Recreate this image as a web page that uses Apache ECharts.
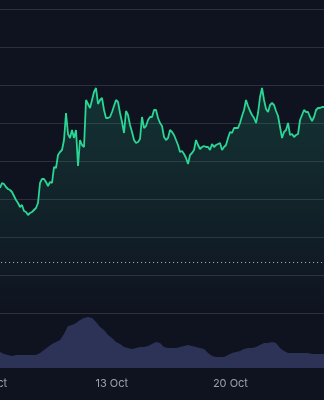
<!DOCTYPE html>
<html>
<head>
<meta charset="utf-8">
<style>
html,body{margin:0;padding:0;background:#0f1320;}
#chart{width:324px;height:400px;}
</style>
</head>
<body>
<div id="chart"></div>
<script src="https://cdn.jsdelivr.net/npm/echarts/dist/echarts.min.js"></script>
<script>
// Time is measured in hours since 6 Oct 00:00
const priceStartHour = 9.77;
const priceStepHours = 2.832;
const volumeStartHour = 9.77;
const volumeStepHours = 5.664;

const priceValues = [
  125,130,129,126,124,123,121,117,113,110,106,108,102,101,98,100,101,103,105,110,
  130,134,134,131,127,131,130,146,145,158,161,163,173,200,179,175,183,175,183,147,
  173,168,166,213,209,205,213,221,225,209,213,215,203,195,195,196,201,207,213,211,
  200,191,180,202,198,188,181,173,170,171,174,196,185,187,193,196,196,203,203,195,
  190,187,176,173,175,183,181,178,173,168,161,162,159,155,149,158,160,163,173,168,
  164,166,167,166,166,163,169,166,168,169,170,163,166,168,175,181,180,185,185,185,
  190,197,203,213,207,202,198,195,190,200,216,225,213,204,201,208,210,208,202,197,
  186,175,181,183,190,178,179,176,178,179,193,198,203,201,201,196,192,196,203,205,
  205,206,206
];

const volumeValues = [
  16,14,13,12,13,13,13,13,13,13,15,18,21,24,26,28,34,42,43,45,
  48,50,51,50,46,41,38,33,30,26,24,21,20,19,20,21,21,22,24,26,
  25,21,20,20,20,21,22,23,22,21,20,19,15,12,11,11,11,13,15,16,
  17,19,20,20,21,23,25,25,26,25,20,17,15,15,15,15,15,15,14,14,
  14,14
];

const openValue = 51;
const axisMaxHour = 468.5;
const tickHours = 168;
const priceAxisMax = 304;
const priceAxisInterval = 38;
const volumeAxisMax = 71;

const priceData = priceValues.map((v, i) => [priceStartHour + i * priceStepHours, v]);
const volumeData = volumeValues.map((v, i) => [volumeStartHour + i * volumeStepHours, v]);

function dayLabel(v) {
  const d = v / 24;
  if (Math.abs(d - Math.round(d)) > 0.01) return '';
  return (6 + Math.round(d)) + ' Oct';
}

const chart = echarts.init(document.getElementById('chart'), null, {renderer: 'canvas'});
chart.setOption({
  backgroundColor: '#0f1320',
  animation: false,
  grid: [
    {left: -6.9, right: 0, top: 9, bottom: 87, containLabel: false, outerBoundsMode: 'none'},
    {left: -6.9, right: 0, top: 297, bottom: 32, containLabel: false, outerBoundsMode: 'none'}
  ],
  xAxis: [
    {
      gridIndex: 0, type: 'value', min: 0, max: axisMaxHour, interval: tickHours,
      axisLine: {show: false}, axisTick: {show: false}, axisLabel: {show: false},
      splitLine: {show: false}
    },
    {
      gridIndex: 1, type: 'value', min: 0, max: axisMaxHour, interval: tickHours,
      axisLine: {show: false}, axisTick: {show: false}, splitLine: {show: false},
      axisLabel: {
        show: true, color: '#9aa0ac', fontSize: 11, margin: 10,
        fontFamily: 'Inter, "Noto Sans", sans-serif',
        showMaxLabel: false, showMinLabel: true, hideOverlap: false,
        formatter: dayLabel
      }
    }
  ],
  yAxis: [
    {
      gridIndex: 0, type: 'value', min: 0, max: priceAxisMax, interval: priceAxisInterval,
      axisLine: {show: false}, axisTick: {show: false}, axisLabel: {show: false},
      splitLine: {show: true, lineStyle: {color: '#2b2f3e', width: 1}}
    },
    {
      gridIndex: 1, type: 'value', min: 0, max: volumeAxisMax,
      axisLine: {show: false}, axisTick: {show: false}, axisLabel: {show: false},
      splitLine: {show: false}
    }
  ],
  series: [
    {
      type: 'line', xAxisIndex: 1, yAxisIndex: 1, data: volumeData,
      showSymbol: false, silent: true,
      lineStyle: {width: 0},
      areaStyle: {color: '#2d3356', opacity: 1}
    },
    {
      type: 'line', xAxisIndex: 0, yAxisIndex: 0, data: priceData,
      showSymbol: false, silent: true,
      lineStyle: {color: '#2bd594', width: 1.8},
      areaStyle: {
        color: new echarts.graphic.LinearGradient(0, 0, 0, 1, [
          {offset: 0, color: 'rgba(43,213,148,0.24)'},
          {offset: 1, color: 'rgba(43,213,148,0)'}
        ])
      },
      markLine: {
        silent: true, symbol: 'none', label: {show: false},
        lineStyle: {color: '#b4b8c4', type: [1, 3], width: 1},
        data: [{yAxis: openValue}]
      }
    }
  ]
});
</script>
</body>
</html>
